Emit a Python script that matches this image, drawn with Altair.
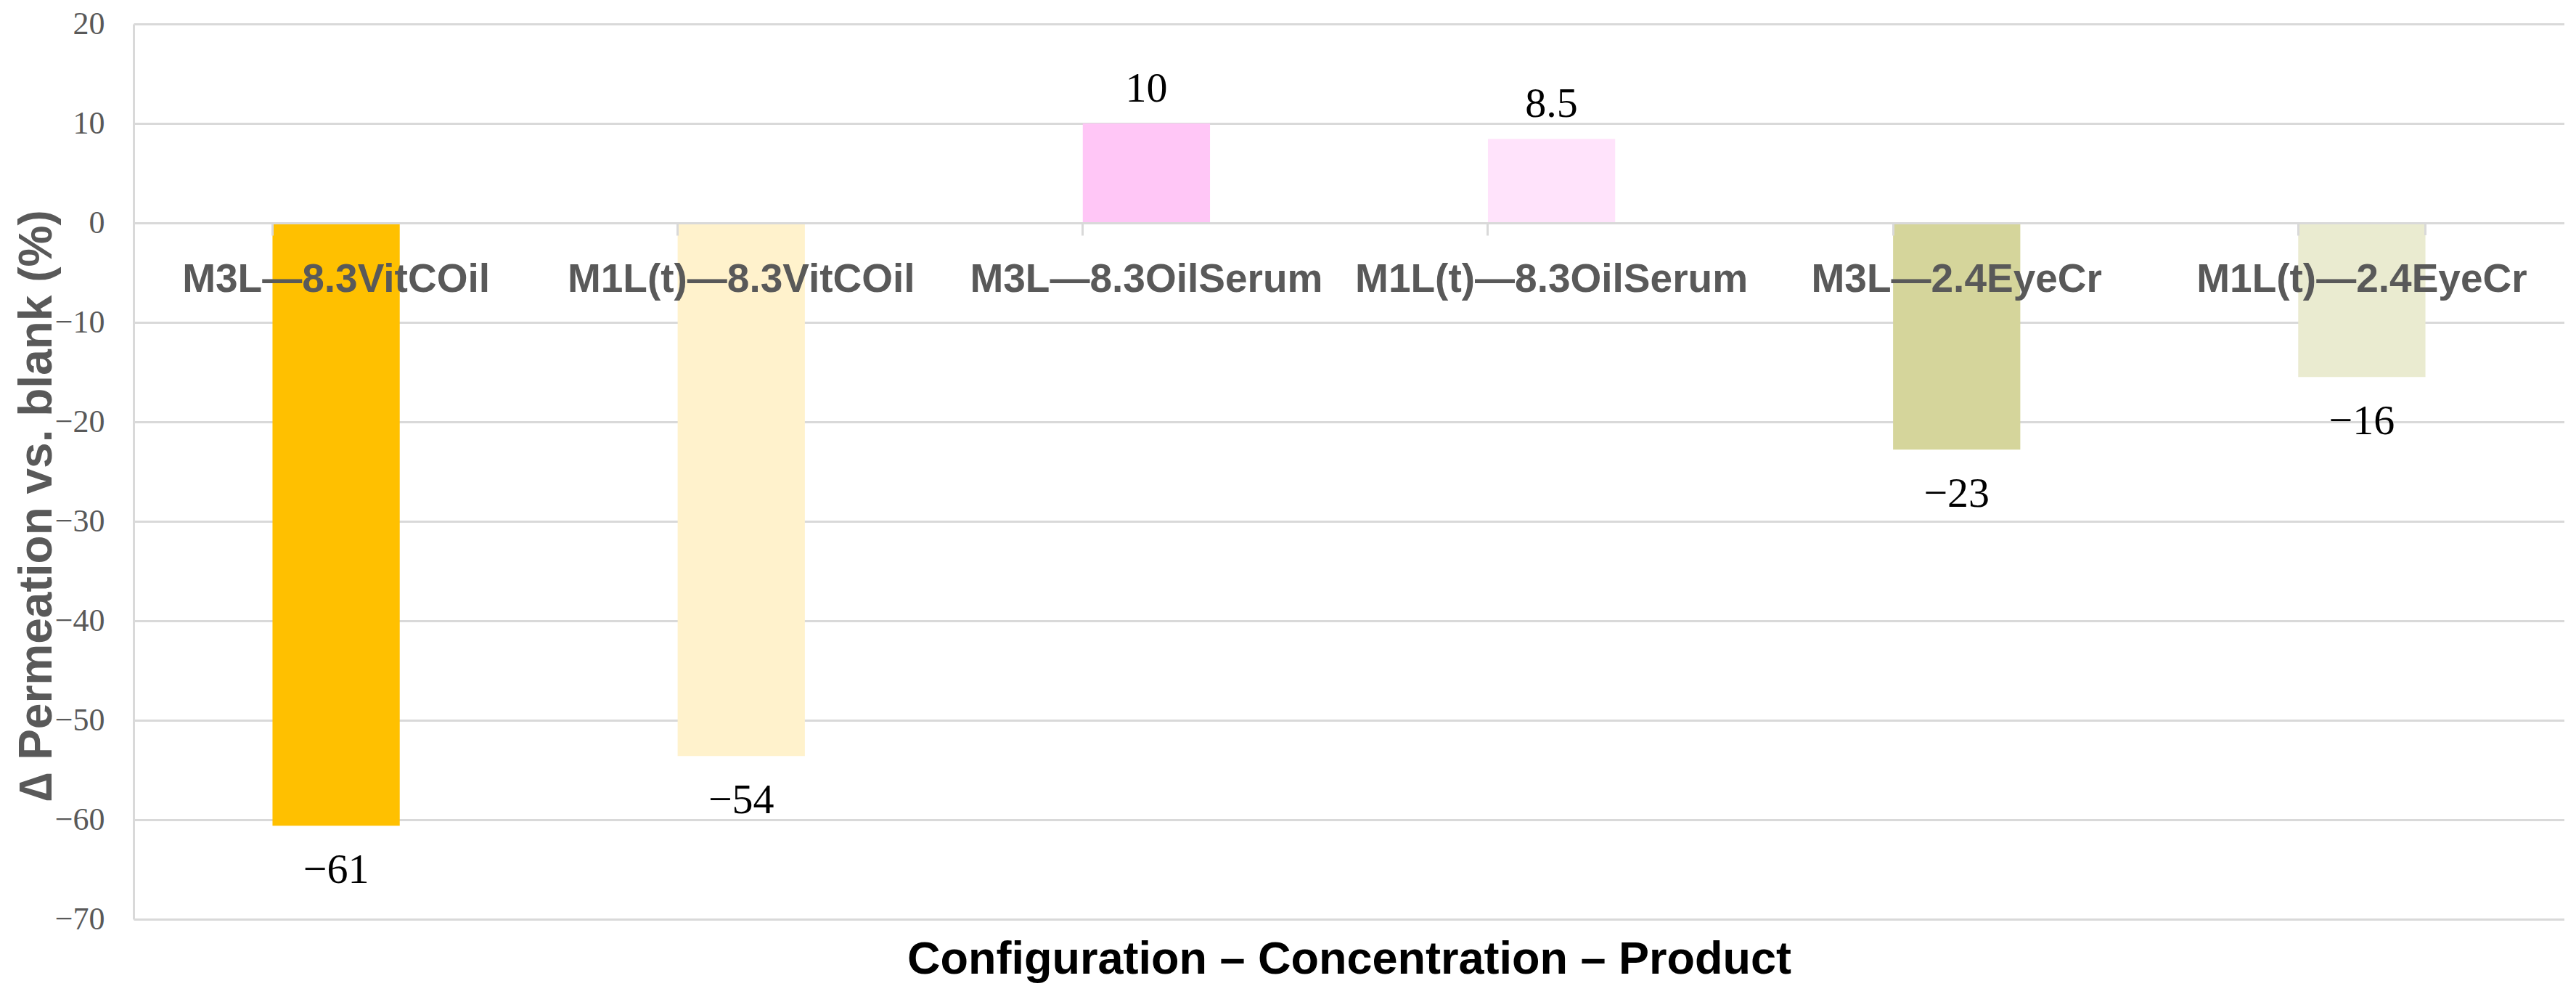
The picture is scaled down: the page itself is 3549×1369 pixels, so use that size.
import altair as alt
import pandas as pd

categories = ["M3L—8.3VitCOil", "M1L(t)—8.3VitCOil", "M3L—8.3OilSerum",
              "M1L(t)—8.3OilSerum", "M3L—2.4EyeCr", "M1L(t)—2.4EyeCr"]
values = [-60.6, -53.6, 10.0, 8.45, -22.8, -15.5]
value_labels = ["−61", "−54", "10", "8.5", "−23", "−16"]
colors = ["#FFC000", "#FFF2CC", "#FFC6F6", "#FFE3FB", "#D5D59B", "#EAEBD0"]
y_ticks = [-70, -60, -50, -40, -30, -20, -10, 0, 10, 20]

df = pd.DataFrame({"cat": categories, "value": values, "label": value_labels})

W, H = 3349, 1233
TOP = 25
Y_MIN, Y_MAX = -70, 20
zero_offset = -(0 - Y_MIN) / (Y_MAX - Y_MIN) * H
zero_abs = 8 + TOP + (Y_MAX - 0) / (Y_MAX - Y_MIN) * H

SANS = "Liberation Sans"
SERIF = "Liberation Serif"
GRID = "#d9d9d9"

x_scale = alt.Scale(domain=categories, paddingInner=0.686, paddingOuter=0.343)
y_scale = alt.Scale(domain=[Y_MIN, Y_MAX], nice=False, zero=False)

x_axis = alt.Axis(orient="bottom", offset=zero_offset, zindex=1,
                  labelAngle=0, labelFont=SANS, labelFontWeight="bold",
                  labelFontSize=55, labelColor="#595959", labelPadding=34,
                  labelLimit=0, tickSize=17, tickColor=GRID, tickWidth=3,
                  bandPosition=0, domainColor=GRID, domainWidth=3,
                  title="Configuration – Concentration – Product",
                  titleFont=SANS, titleFontWeight="bold", titleFontSize=63,
                  titleColor="black", titleBaseline="alphabetic",
                  titleAlign="center", titleX=W / 2, titleY=1340 - zero_abs)
y_axis = alt.Axis(values=y_ticks, labelFont=SERIF, labelFontSize=44,
                  labelColor="#595959", labelPadding=40, ticks=False,
                  domainColor=GRID, domainWidth=3, gridColor=GRID,
                  gridWidth=3, title="∆ Permeation vs. blank (%)",
                  titleFont=SANS, titleFontWeight="bold",
                  titleFontSize=64, titleColor="#595959", titleAngle=270,
                  titleBaseline="alphabetic", titleAlign="center",
                  titleX=-114, titleY=663)

X = alt.X("cat:N", sort=categories, scale=x_scale, axis=x_axis)
Y = alt.Y("value:Q", scale=y_scale, axis=y_axis)

base = alt.Chart(df).encode(x=X, y=Y)

bars = base.mark_bar().encode(
    color=alt.Color("cat:N", scale=alt.Scale(domain=categories, range=colors),
                    legend=None),
)

pos_labels = base.transform_filter("datum.value >= 0").mark_text(
    baseline="alphabetic", dy=-30, font=SERIF, fontSize=58, color="black"
).encode(text="label:N")

neg_labels = base.transform_filter("datum.value < 0").mark_text(
    baseline="middle", dy=62, font=SERIF, fontSize=58, color="black"
).encode(text="label:N")

end_tick = base.transform_filter(
    alt.FieldEqualPredicate(field="cat", equal=categories[-1])
).mark_rule(color=GRID, strokeWidth=3).encode(
    x=alt.X("cat:N", sort=categories, scale=x_scale, axis=x_axis, bandPosition=1),
    y=alt.datum(0),
    y2=alt.datum(-17 / H * (Y_MAX - Y_MIN)),
)

chart = alt.layer(bars, end_tick, pos_labels, neg_labels).properties(
    width=W, height=H,
    autosize=alt.AutoSizeParams(type="none"),
    padding={"left": 176, "top": TOP, "right": 0, "bottom": 90},
).configure_view(stroke=None)

chart.save("out.html", embed_options={"renderer": "svg", "actions": False})
